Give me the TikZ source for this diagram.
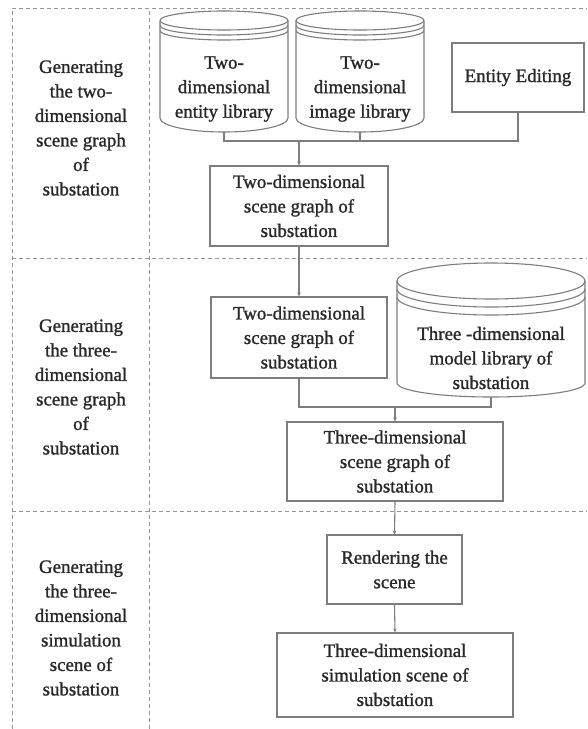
\documentclass[tikz,border=0pt]{standalone}
\usepackage{fontspec}
\setmainfont{Liberation Serif}[RawFeature={embolden=1.2}]
\usetikzlibrary{arrows.meta}
\definecolor{ink}{RGB}{40,40,40}
\definecolor{edge}{RGB}{125,125,125}
\definecolor{dash}{RGB}{150,150,150}
\begin{document}
\begin{tikzpicture}[x=1pt,y=1pt,
  every node/.style={font=\fontsize{18.9}{24.5}\selectfont, text=ink, align=center, inner sep=0pt},
  procbox/.style={draw=edge, line width=1.1pt, minimum width=#1},
  cylline/.style={draw=edge, line width=1.1pt},
  conn/.style={draw=edge, line width=1.1pt},
  arr/.style={conn, -{Stealth[length=4pt,width=3.5pt]}},
  lane/.style={draw=dash, line width=1pt, dash pattern=on 4pt off 3pt},
  lanelabel/.style={text=ink}
]
\useasboundingbox[fill=white] (0,0) rectangle (587,-729);

% swimlane frame
\draw[lane] (12,-729) -- (12,-8) -- (587,-8);
\draw[lane] (149,-729) -- (149,-8);
\draw[lane] (12,-258) -- (587,-258);
\draw[lane] (12,-511) -- (587,-511);

% lane titles
\node[lanelabel] (lane1) at (81,-128) {Generating\\the two-\\dimensional\\scene graph\\of\\substation};
\node[lanelabel] (lane2) at (81,-387) {Generating\\the three-\\dimensional\\scene graph\\of\\substation};
\node[lanelabel] (lane3) at (81,-628) {Generating\\the three-\\dimensional\\simulation\\scene of\\substation};

% database cylinders: top ellipse, two rim arcs, sides and bottom
% entity library
\path[cylline] (224,-20.5) ellipse [x radius=64, y radius=9.5];
\draw[cylline] (160,-25.5) arc [start angle=180, end angle=360, x radius=64, y radius=9.5];
\draw[cylline] (160,-30.5) arc [start angle=180, end angle=360, x radius=64, y radius=9.5];
\draw[cylline] (160,-20.5) -- (160,-118) arc [start angle=180, end angle=360, x radius=64, y radius=14] -- (288,-20.5);
\node (cylA) at (224,-89) {Two-\\dimensional\\entity library};
\coordinate (cylAb) at (224,-132);

% image library
\path[cylline] (360,-20.5) ellipse [x radius=64, y radius=9.5];
\draw[cylline] (296,-25.5) arc [start angle=180, end angle=360, x radius=64, y radius=9.5];
\draw[cylline] (296,-30.5) arc [start angle=180, end angle=360, x radius=64, y radius=9.5];
\draw[cylline] (296,-20.5) -- (296,-118) arc [start angle=180, end angle=360, x radius=64, y radius=14] -- (424,-20.5);
\node (cylB) at (360,-89) {Two-\\dimensional\\image library};
\coordinate (cylBb) at (360,-132);

% 3D model library
\path[cylline] (491,-281) ellipse [x radius=94, y radius=18];
\draw[cylline] (397,-289) arc [start angle=180, end angle=360, x radius=94, y radius=18];
\draw[cylline] (397,-297) arc [start angle=180, end angle=360, x radius=94, y radius=18];
\draw[cylline] (397,-281) -- (397,-383) arc [start angle=180, end angle=360, x radius=94, y radius=14] -- (585,-281);
\node (cylC) at (491,-358) {Three -dimensional\\model library of\\substation};
\coordinate (cylCb) at (491,-397);

% process boxes
\node[procbox=132pt, minimum height=69pt] (edit) at (518,-77.5) {Entity Editing};
\node[procbox=178pt, minimum height=80pt] (boxA) at (299,-206) {Two-dimensional\\scene graph of\\substation};
\node[procbox=176pt, minimum height=81pt] (boxB) at (299,-337.5) {Two-dimensional\\scene graph of\\substation};
\node[procbox=216pt, minimum height=79pt] (boxC) at (395,-461.5) {Three-dimensional\\scene graph of\\substation};
\node[procbox=135pt, minimum height=69pt] (render) at (394.5,-569.5) {Rendering the\\scene};
\node[procbox=236pt, minimum height=84pt] (final) at (395,-675) {Three-dimensional\\simulation scene of\\substation};

% junction rows
\coordinate (jTop) at (0,-141);
\coordinate (jMid) at (0,-407);

% connectors
\draw[conn] (cylAb) |- (edit.south |- jTop) -- (edit.south);
\draw[conn] (cylBb) -- (cylBb |- jTop);
\draw[arr] (boxA.north |- jTop) -- (boxA.north);
\draw[arr] (boxA.south) -- (boxB.north);
\draw[conn] (boxB.south) |- (cylCb |- jMid) -- (cylCb);
\draw[arr] (boxC.north |- jMid) -- (boxC.north);
\draw[arr] (boxC.south) -- (render.north);
\draw[arr] (render.south) -- (final.north);
\end{tikzpicture}
\end{document}
